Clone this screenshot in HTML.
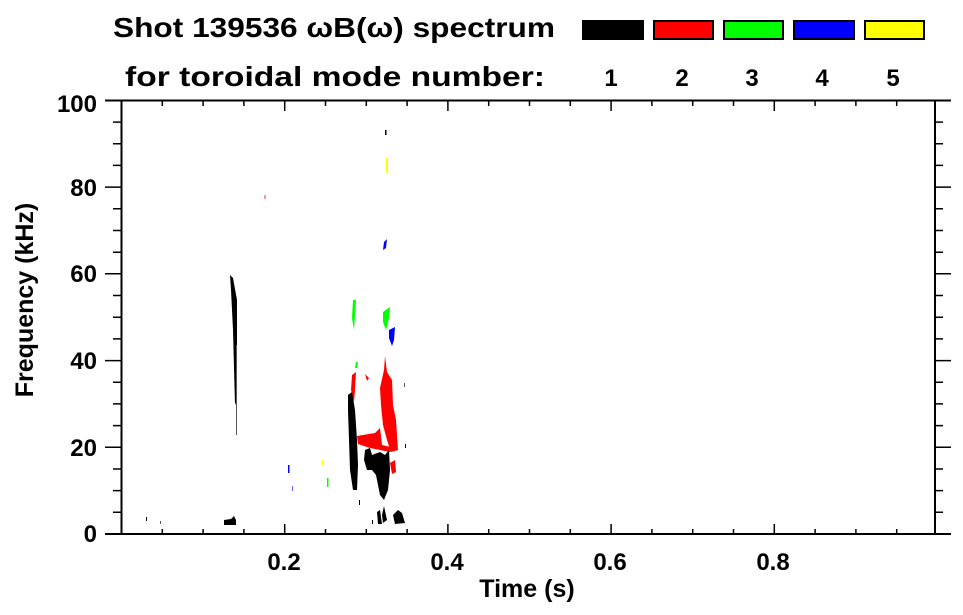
<!DOCTYPE html>
<html><head><meta charset="utf-8"><style>body{margin:0;background:#fff}svg{display:block}</style></head>
<body>
<svg width="963" height="615" xmlns="http://www.w3.org/2000/svg" font-family="Liberation Sans, Arial, sans-serif" font-weight="bold">
<rect width="963" height="615" fill="#fff"/>
<text x="113" y="37" font-size="28" textLength="442" lengthAdjust="spacingAndGlyphs">Shot 139536 ωB(ω) spectrum</text>
<text x="125" y="86" font-size="28" textLength="420" lengthAdjust="spacingAndGlyphs">for toroidal mode number:</text>
<rect x="582" y="20" width="62" height="20" fill="#000"/>
<rect x="654" y="21" width="59" height="18" fill="#f00" stroke="#000" stroke-width="2"/>
<rect x="724" y="21" width="59" height="18" fill="#0f0" stroke="#000" stroke-width="2"/>
<rect x="794" y="21" width="60" height="18" fill="#00f" stroke="#000" stroke-width="2"/>
<rect x="865" y="21" width="59" height="18" fill="#ff0" stroke="#000" stroke-width="2"/>
<g font-size="24" text-anchor="middle">
<text x="611" y="86">1</text><text x="682" y="86">2</text><text x="752" y="86">3</text><text x="822" y="86">4</text><text x="893" y="86">5</text>
</g>
<g>
<polygon points="353,300 356,300 355,315 354,330 352,318" fill="#0f0"/>
<polygon points="383,312 390,307 389,318 386,330 383,322" fill="#0f0"/>
<polygon points="356,362 358,362 357,368 355,368" fill="#0f0"/>
<polygon points="389,330 395,327 394,340 392,346 389,338" fill="#00f"/>
<polygon points="384,242 387,239 386,248 383,250" fill="#00f"/>
<rect x="386" y="158" width="2" height="15" fill="#ff0"/>
<rect x="385" y="130" width="1.5" height="5" fill="#000"/>
<rect x="264" y="195" width="2" height="4" fill="#f99"/>
<polygon points="352,375 356,372 355,390 354,402 351,390" fill="#f00"/>
<polygon points="365,374 369,378 367,381" fill="#f00"/>
<polygon points="380,388 384,370 385,356 387,372 392,380 393,405 396,420 398,450 391,452 387,440 383,425 381,405" fill="#f00"/>
<polygon points="357,436 375,433 380,428 382,445 395,448 390,452 370,448 358,444" fill="#f00"/>
<polygon points="390,463 395,460 396,472 392,474" fill="#f00"/>
<polygon points="348,395 352,392 355,410 357,440 358,465 357,490 353,490 350,470 349,440 348,410" fill="#000"/>
<polygon points="365,450 370,448 372,455 380,452 385,455 389,450 390,470 388,490 384,500 380,495 376,475 372,470 367,470 364,460" fill="#000"/>
<polygon points="230,275 233,278 237,300 237,400 235,405 233,330 231,290" fill="#000"/>
<rect x="236" y="345" width="1" height="90" fill="#555"/>
<polygon points="224,520 231,519 234,516 236,520 236,525 224,525" fill="#000"/>
<rect x="146" y="517" width="1" height="4" fill="#000"/>
<rect x="160" y="521" width="1" height="3" fill="#555"/>
<rect x="288" y="465" width="1.5" height="8" fill="#00f"/>
<rect x="292" y="486" width="1" height="5" fill="#66f"/>
<rect x="327" y="478" width="1.5" height="9" fill="#0f0"/>
<rect x="322" y="460" width="1" height="5" fill="#ff0"/>
<rect x="359" y="500" width="1" height="5" fill="#000"/>
<polygon points="377,512 380,510 382,524 378,524" fill="#000"/>
<polygon points="382,515 384,506 387,520 383,523" fill="#000"/>
<polygon points="393,515 398,510 402,513 405,523 395,524" fill="#000"/>
<rect x="372" y="520" width="1" height="4" fill="#000"/>
<rect x="404" y="383" width="1" height="4" fill="#555"/>
<rect x="405" y="444" width="1" height="4" fill="#000"/>
</g>
<g stroke="#000" stroke-width="2" fill="none">
<line x1="105" y1="100.5" x2="951" y2="100.5"/>
<line x1="105" y1="534" x2="951" y2="534"/>
<line x1="121.5" y1="100" x2="121.5" y2="534"/>
<line x1="935" y1="100" x2="935" y2="534"/>
</g>
<g stroke="#000" stroke-width="1.5">
<!-- y ticks left (major at every 4) -->
<path d="M113 512.3H121M113 490.6H121M113 469H121M105 447.3H121M113 425.6H121M113 403.9H121M113 382.2H121M105 360.6H121M113 338.9H121M113 317.2H121M113 295.5H121M105 273.8H121M113 252.2H121M113 230.5H121M113 208.8H121M105 187.1H121M113 165.4H121M113 143.8H121M113 122.1H121"/>
<path d="M935 512.3H943M935 490.6H943M935 469H943M935 447.3H951M935 425.6H943M935 403.9H943M935 382.2H943M935 360.6H951M935 338.9H943M935 317.2H943M935 295.5H943M935 273.8H951M935 252.2H943M935 230.5H943M935 208.8H943M935 187.1H951M935 165.4H943M935 143.8H943M935 122.1H943"/>
<path d="M162.3 534V529M203.1 534V529M243.9 534V529M284.7 534V524M325.5 534V529M366.3 534V529M407.1 534V529M447.9 534V524M488.7 534V529M529.5 534V529M570.3 534V529M611.1 534V524M651.9 534V529M692.7 534V529M733.5 534V529M774.3 534V524M815.1 534V529M855.9 534V529M896.7 534V529"/>
<path d="M162.3 101V106M203.1 101V106M243.9 101V106M284.7 101V111M325.5 101V106M366.3 101V106M407.1 101V106M447.9 101V111M488.7 101V106M529.5 101V106M570.3 101V106M611.1 101V111M651.9 101V106M692.7 101V106M733.5 101V106M774.3 101V111M815.1 101V106M855.9 101V106M896.7 101V106"/>
</g>
<g font-size="24" text-anchor="end">
<text x="97" y="112">100</text><text x="97" y="196">80</text><text x="97" y="282">60</text><text x="97" y="369">40</text><text x="97" y="456">20</text><text x="97" y="542">0</text>
</g>
<g font-size="24" text-anchor="middle">
<text x="284" y="570">0.2</text><text x="447" y="570">0.4</text><text x="610" y="570">0.6</text><text x="773" y="570">0.8</text>
</g>
<text x="527" y="597" font-size="25" text-anchor="middle">Time (s)</text>
<text transform="translate(33,300) rotate(-90)" font-size="25" text-anchor="middle">Frequency (kHz)</text>
</svg>
</body></html>
